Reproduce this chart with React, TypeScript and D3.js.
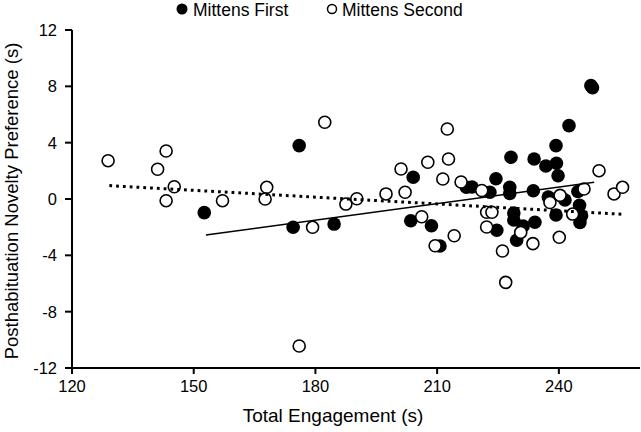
import React from "react";
import * as d3 from "d3";

const firstX = [152.6, 176.0, 174.5, 184.6, 204.1, 203.5, 208.6, 210.7, 217.2, 218.6, 223.0, 224.5, 228.2, 227.9, 227.9, 233.7, 233.9, 236.8, 239.3, 239.4, 239.8, 242.5, 247.9, 248.3, 237.4, 241.5, 244.7, 245.1, 245.6, 245.2, 239.3, 234.1, 231.2, 228.9, 228.9, 224.7, 229.6];
const firstY = [-0.97, 3.79, -2.01, -1.78, 1.54, -1.54, -1.9, -3.34, 0.83, 0.85, 0.48, 1.44, 2.96, 0.83, 0.39, 0.59, 2.84, 2.34, 3.79, 2.54, 1.65, 5.21, 8.05, 7.9, 0.14, -0.07, 0.53, -0.45, -1.19, -1.67, -1.14, -1.65, -1.92, -0.99, -1.49, -2.22, -2.93];

const secondX = [128.9, 141.1, 143.2, 145.2, 143.2, 157.1, 168.0, 167.6, 182.3, 179.3, 187.5, 190.2, 197.4, 202.1, 201.1, 207.7, 211.4, 212.5, 212.8, 206.2, 209.5, 214.2, 215.9, 221.0, 222.2, 223.5, 222.2, 230.6, 233.6, 226.1, 226.9, 240.1, 237.8, 240.3, 246.2, 243.4, 249.9, 253.6, 255.7, 176.0];
const secondY = [2.72, 2.11, 3.41, 0.87, -0.12, -0.12, 0.83, 0, 5.45, -2.01, -0.36, 0.02, 0.36, 0.48, 2.13, 2.61, 1.42, 4.97, 2.84, -1.26, -3.32, -2.61, 1.21, 0.6, -0.94, -0.94, -1.99, -2.37, -3.17, -3.69, -5.92, -2.72, -0.25, 0.26, 0.71, -1.07, 2.01, 0.36, 0.83, -10.44];

// regression line endpoints
const firstFitX = [153.0, 248.7];
const firstFitY = [-2.56, 1.19];
const secondFitX = [129.2, 255.9];
const secondFitY = [0.95, -1.09];

const xTicks = [120, 150, 180, 210, 240];
const yTicks = [-12, -8, -4, 0, 4, 8, 12];

const seriesNames = ["Mittens First", "Mittens Second"];

const FONT = "'Liberation Sans', Arial, Helvetica, sans-serif";

export default function App() {
  const W = 641, H = 432;
  const left = 72, right = 640, top = 30, bottom = 368;
  const x = d3.scaleLinear().domain([120, 260]).range([left, right]);
  const y = d3.scaleLinear().domain([-12, 12]).range([bottom, top]);
  const line = d3.line<[number, number]>().x(d => x(d[0])).y(d => y(d[1]));
  const r = 6.8;

  const firstPts = firstX.map((v, i) => [v, firstY[i]] as [number, number]);
  const secondPts = secondX.map((v, i) => [v, secondY[i]] as [number, number]);

  return (
    <svg width={W} height={H} style={{ position: "absolute", left: 0, top: 0, background: "#fff" }} fontFamily={FONT}>
      <rect x={0} y={0} width={W} height={H} fill="#fff" />
      {/* axes */}
      <line x1={left} x2={left} y1={top} y2={bottom} stroke="#000" strokeWidth={2} />
      <line x1={left} x2={right} y1={bottom} y2={bottom} stroke="#000" strokeWidth={2} />
      {yTicks.map(t => (
        <g key={"y" + t}>
          <line x1={left - 7} x2={left} y1={y(t)} y2={y(t)} stroke="#000" strokeWidth={2} />
          <text x={left - 15} y={y(t) + 6} textAnchor="end" fontSize={16.5}>{t}</text>
        </g>
      ))}
      {xTicks.map(t => (
        <g key={"x" + t}>
          <line x1={x(t)} x2={x(t)} y1={bottom} y2={bottom + 6} stroke="#000" strokeWidth={2} />
          <text x={x(t)} y={392} textAnchor="middle" fontSize={16.5}>{t}</text>
        </g>
      ))}
      <text x={333} y={422} textAnchor="middle" fontSize={19}>Total Engagement (s)</text>
      <text transform={`translate(18,${(top + bottom) / 2 + 2}) rotate(-90)`} textAnchor="middle" fontSize={18.5}>Posthabituation Novelty Preference (s)</text>

      {/* points */}
      {firstPts.map((p, i) => (
        <circle key={"f" + i} cx={x(p[0])} cy={y(p[1])} r={r} fill="#000" />
      ))}
      {secondPts.map((p, i) => (
        <circle key={"s" + i} cx={x(p[0])} cy={y(p[1])} r={r - 0.8} fill="#fff" stroke="#000" strokeWidth={1.6} />
      ))}

      {/* fit lines */}
      <path d={line(firstFitX.map((v, i) => [v, firstFitY[i]] as [number, number])) || ""} stroke="#000" strokeWidth={1.5} fill="none" />
      <path d={line(secondFitX.map((v, i) => [v, secondFitY[i]] as [number, number])) || ""} stroke="#000" strokeWidth={3} strokeDasharray="2.8,4" fill="none" />

      {/* legend */}
      <circle cx={182} cy={9} r={5.5} fill="#000" />
      <text x={193} y={16} fontSize={17.5}>{seriesNames[0]}</text>
      <circle cx={332} cy={9} r={4.5} fill="#fff" stroke="#000" strokeWidth={1.5} />
      <text x={342} y={16} fontSize={17.5}>{seriesNames[1]}</text>
    </svg>
  );
}
